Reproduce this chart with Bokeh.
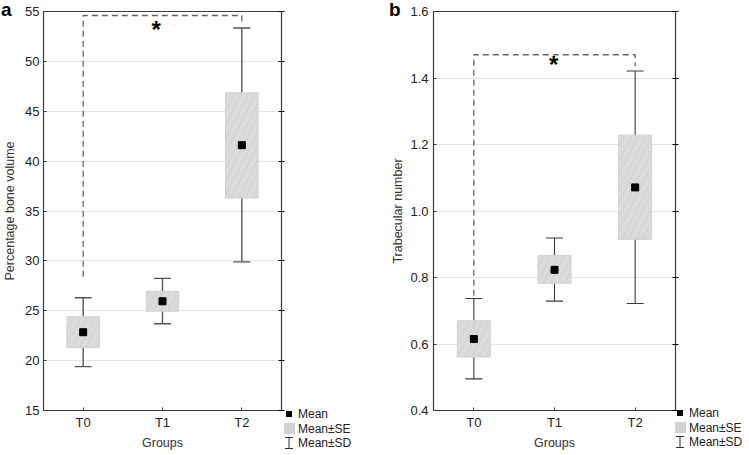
from bokeh.plotting import figure
from bokeh.models import (Range1d, FixedTicker, LinearAxis, ColumnDataSource,
                          PrintfTickFormatter, GridBox, Div)
from bokeh.embed import file_html
from bokeh.resources import INLINE
from bokeh.core.properties import value

# ---------------- data ----------------
groups = ["T0", "T1", "T2"]

# panel a: percentage bone volume
a_mean = [22.85, 25.95, 41.6]
a_se_lo = [21.3, 24.95, 36.3]
a_se_hi = [24.4, 26.95, 46.85]
a_sd_lo = [19.4, 23.7, 29.9]
a_sd_hi = [26.3, 28.25, 53.35]
a_yticks = [15, 20, 25, 30, 35, 40, 45, 50, 55]
a_bracket = [28.4, 54.6, 54.6, 53.7]   # T0 start, top, top, T2 end

# panel b: trabecular number
b_mean = [0.615, 0.823, 1.071]
b_se_lo = [0.561, 0.783, 0.914]
b_se_hi = [0.670, 0.866, 1.228]
b_sd_lo = [0.495, 0.729, 0.722]
b_sd_hi = [0.737, 0.919, 1.421]
b_yticks = [0.4, 0.6, 0.8, 1.0, 1.2, 1.4, 1.6]
b_bracket = [0.745, 1.47, 1.47, 1.435]

legend_labels = ["Mean", "Mean±SE", "Mean±SD"]

FONT = "Liberation Sans"
H = 452
BOX = "#d2d2d2"


def panel(ylabel, mean, se_lo, se_hi, sd_lo, sd_hi, yticks, bracket,
          star_x, star_y, width, border_left, border_right, fmt, whisk, wlw,
          tick_standoff, label_standoff):
    x = list(range(len(groups)))
    p = figure(width=width, height=H, output_backend="svg", toolbar_location=None,
               x_range=Range1d(-0.5, len(groups) - 0.5),
               y_range=Range1d(yticks[0], yticks[-1]),
               min_border_left=border_left, min_border_right=border_right,
               min_border_top=11, min_border_bottom=40)
    p.outline_line_color = "#3a3a3a"
    p.outline_line_width = 1.2

    for ax in (p.xaxis[0], p.yaxis[0]):
        ax.axis_line_color = "#3a3a3a"
        ax.major_tick_in = 3
        ax.major_tick_out = 0
        ax.minor_tick_line_color = None
        ax.major_tick_line_color = "#3a3a3a"
        ax.major_label_text_font = FONT
        ax.major_label_text_font_size = "13px"
        ax.major_label_text_color = "#222222"
        ax.axis_label_text_font = FONT
        ax.axis_label_text_font_size = "12.5px"
        ax.axis_label_text_font_style = "normal"
        ax.axis_label_text_color = "#333333"
    p.xaxis.ticker = FixedTicker(ticks=x)
    p.xaxis.major_label_overrides = {i: g for i, g in zip(x, groups)}
    p.xaxis.axis_label = "Groups"
    p.xaxis.major_label_standoff = 4
    p.xaxis.axis_label_standoff = 3
    p.yaxis.ticker = FixedTicker(ticks=yticks)
    p.yaxis.formatter = PrintfTickFormatter(format=fmt)
    p.yaxis.axis_label = ylabel
    p.yaxis.major_label_standoff = tick_standoff
    p.yaxis.axis_label_standoff = label_standoff

    # right frame edge: tick marks only (empty labels)
    r = LinearAxis(ticker=FixedTicker(ticks=yticks),
                   formatter=PrintfTickFormatter(format=""),
                   major_label_text_font_size="0px",
                   major_tick_in=3, major_tick_out=3, minor_tick_line_color=None,
                   axis_line_color="#3a3a3a", major_label_standoff=0)
    p.add_layout(r, "right")

    p.xgrid.grid_line_color = None
    p.ygrid.ticker = FixedTicker(ticks=yticks)
    p.ygrid.grid_line_color = "#e4e4e4"

    src = ColumnDataSource(dict(x=x, mean=mean, se_lo=se_lo, se_hi=se_hi,
                                sd_lo=sd_lo, sd_hi=sd_hi))
    p.segment(x0="x", x1="x", y0="sd_lo", y1="sd_hi", source=src,
              line_color=whisk, line_width=wlw)
    p.scatter(x="x", y="sd_lo", source=src, marker="dash", size=17,
              line_color=whisk, line_width=wlw)
    p.scatter(x="x", y="sd_hi", source=src, marker="dash", size=17,
              line_color=whisk, line_width=wlw)
    p.vbar(x="x", bottom="se_lo", top="se_hi", width=0.41, source=src,
           fill_color=BOX, line_color=BOX, line_width=1,
           hatch_pattern="right_diagonal_line", hatch_color="#dbdbdb",
           hatch_scale=14, hatch_weight=5)
    p.scatter(x="x", y="mean", source=src, marker="square", size=7,
              fill_color="black", line_color="black")

    p.line(x=[x[0], x[0], x[-1], x[-1]], y=bracket, line_color="#666666",
           line_width=1.3, line_dash="6 4")
    p.text(x=[star_x], y=[star_y], text=["*"], text_font=value(FONT),
           text_font_size="24px", text_font_style="bold", text_align="center",
           text_baseline="top", text_color="black")
    return p


def overlay(letter, letter_left, leg_left, leg_top):
    # HTML layer (panel letter + key) laid over the panel in the same grid cell
    sw = [
        '<span style="display:inline-block;width:6px;height:6px;background:#000;"></span>',
        '<span style="display:inline-block;width:11px;height:11px;background:%s;"></span>' % BOX,
        '<svg width="12" height="12" style="display:block">'
        '<line x1="6" y1="0.5" x2="6" y2="11.5" stroke="#333" stroke-width="1"/>'
        '<line x1="2" y1="0.5" x2="10" y2="0.5" stroke="#333" stroke-width="1"/>'
        '<line x1="2" y1="11.5" x2="10" y2="11.5" stroke="#333" stroke-width="1"/></svg>',
    ]
    rows = "".join(
        '<div style="display:flex;align-items:center;height:14.5px;">'
        '<div style="width:12px;display:flex;justify-content:center;align-items:center;">%s</div>'
        '<div style="margin-left:3px;">%s</div></div>' % (s, t)
        for s, t in zip(sw, legend_labels))
    html = (
        '<div style="position:relative;width:100px;height:100px;font-family:\'%s\';'
        'overflow:visible;pointer-events:none;">'
        '<div style="position:absolute;left:%dpx;top:-5px;font-size:19px;font-weight:bold;'
        'line-height:19px;color:#000;">%s</div>'
        '<div style="position:absolute;left:%dpx;top:%dpx;font-size:12px;color:#222;'
        'white-space:nowrap;line-height:14.5px;">%s</div></div>'
        % (FONT, letter_left, letter, leg_left, leg_top, rows))
    return Div(text=html, width=100, height=100,
               styles={"overflow": "visible", "pointer-events": "none"})


pa = panel("Percentage bone volume", a_mean, a_se_lo, a_se_hi, a_sd_lo, a_sd_hi,
           a_yticks, a_bracket, 0.92, 54.55, 376, 37, 95, "%d", "#555555", 1.4, 4, 5)
pb = panel("Trabecular number", b_mean, b_se_lo, b_se_hi, b_sd_lo, b_sd_hi,
           b_yticks, b_bracket, 0.99, 1.48, 357, 57, 58, "%.1f", "#3a3a3a", 1.1, 5, 2)
da = overlay("a", -4, 278, 402)
db = overlay("b", 8, 293, 401)

grid = GridBox(children=[(pa, 0, 0), (pb, 0, 1), (da, 0, 0), (db, 0, 1)])
open("out.html", "w").write(file_html(grid, INLINE))
